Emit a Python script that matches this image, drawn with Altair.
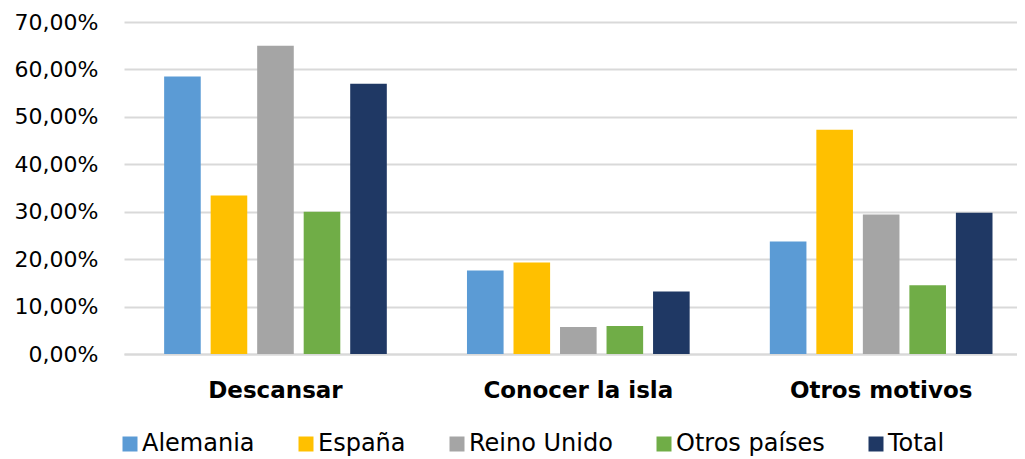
import altair as alt
import pandas as pd

categories = ["Descansar", "Conocer la isla", "Otros motivos"]
countries = ["Alemania", "España", "Reino Unido", "Otros países", "Total"]
colors = ["#5B9BD5", "#FFC000", "#A5A5A5", "#70AD47", "#1F3864"]
alemania = [58.5, 17.6, 23.7]
espana = [33.4, 19.3, 47.3]
reino_unido = [65.0, 5.7, 29.4]
otros = [30.0, 5.9, 14.5]
total = [57.0, 13.2, 29.8]

series = [alemania, espana, reino_unido, otros, total]
rows = []
for country, vals in zip(countries, series):
    for cat, v in zip(categories, vals):
        rows.append({"Motivo": cat, "País": country, "Valor": v})
df = pd.DataFrame(rows)

FONT = "DejaVu Sans"

chart = alt.Chart(df).mark_bar().encode(
    x=alt.X("Motivo:N", sort=categories, title=None,
            scale=alt.Scale(paddingInner=0.2647, paddingOuter=0.1067, align=0.621),
            axis=alt.Axis(labelAngle=0, labelFontWeight="bold", labelFontSize=23,
                          labelFont=FONT, labelColor="#000000", labelPadding=25,
                          labelLimit=400,
                          ticks=False, domain=True, domainColor="#D9D9D9", domainWidth=2)),
    xOffset=alt.XOffset("País:N", sort=countries,
                        scale=alt.Scale(paddingInner=0.213, paddingOuter=0)),
    y=alt.Y("Valor:Q", title=None,
            scale=alt.Scale(domain=[0, 70], nice=False),
            axis=alt.Axis(values=[0, 10, 20, 30, 40, 50, 60, 70],
                          labelExpr="replace(format(datum.value, '.2f'), '.', ',') + '%'",
                          labelFontSize=22, labelFont=FONT, labelColor="#000000",
                          labelPadding=26, ticks=False, domain=False,
                          gridColor="#D9D9D9", gridWidth=2)),
    color=alt.Color("País:N", sort=countries,
                    scale=alt.Scale(domain=countries, range=colors),
                    legend=alt.Legend(title=None, orient="none", direction="horizontal",
                                      legendX=-6, legendY=410,
                                      symbolType="square", symbolSize=225,
                                      symbolStrokeWidth=0, labelFontSize=24,
                                      labelFont=FONT, labelColor="#000000",
                                      labelLimit=400,
                                      columnPadding=39, labelOffset=0)),
).properties(
    width=893, height=332,
    autosize=alt.AutoSizeParams(type="none"),
    padding={"left": 116, "top": 14, "right": 0, "bottom": 105},
).configure_view(stroke=None)

chart.save("out.html", embed_options={"renderer": "svg", "actions": False})
